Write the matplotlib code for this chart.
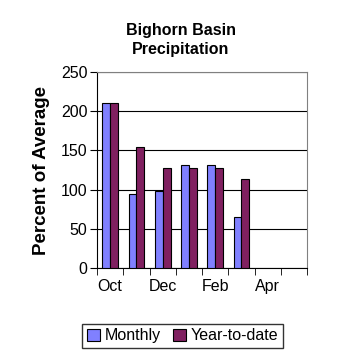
import matplotlib
matplotlib.use("Agg")
from matplotlib import pyplot as plt
import numpy as np

plt.rcParams['font.family'] = ['Liberation Sans', 'DejaVu Sans']

months = ['Oct', 'Nov', 'Dec', 'Jan', 'Feb', 'Mar', 'Apr', 'May']
monthly = [211, 94, 98, 132, 131, 65, np.nan, np.nan]
ytd = [211, 155, 127, 128, 127, 114, np.nan, np.nan]
tick_labels = ['Oct', '', 'Dec', '', 'Feb', '', 'Apr', '']

fig = plt.figure(figsize=(3.58, 3.58), dpi=100)
ax = fig.add_axes([0.271, 0.251, 0.587, 0.548])

x = np.arange(len(months))
w = 0.3
ax.bar(x - w/2, monthly, w, color='#8080ff', edgecolor='black', linewidth=0.8, label='Monthly', zorder=3)
ax.bar(x + w/2, ytd, w, color='#802060', edgecolor='black', linewidth=0.8, label='Year-to-date', zorder=3)

ax.set_xlim(-0.5, len(months) - 0.5)
ax.set_ylim(0, 250)
ax.set_yticks(range(0, 251, 50))
ax.yaxis.grid(True, color='black', linewidth=0.8, zorder=0)

# month labels at centers, tick marks at boundaries
ax.set_xticks(x)
ax.set_xticklabels(tick_labels, fontsize=11.5)
ax.tick_params(axis='x', which='major', length=0, pad=8)
ax.set_xticks(np.arange(-0.5, len(months)), minor=True)
ax.tick_params(axis='x', which='minor', length=5, direction='out', color='black')
ax.tick_params(axis='y', labelsize=11.5, length=5, direction='out', pad=2)

for s in ['top', 'right']:
    ax.spines[s].set_color('#808080')
for s in ['left', 'bottom']:
    ax.spines[s].set_color('black')

ax.set_ylabel('Percent of Average', fontsize=13.5, fontweight='bold', labelpad=8)
fig.text(0.505, 0.888, 'Bighorn Basin\nPrecipitation', ha='center', va='center',
         fontsize=11.5, fontweight='bold', linespacing=1.4)

leg = fig.legend(loc='center', bbox_to_anchor=(0.51, 0.062), ncol=2, fontsize=11.5,
                 frameon=True, fancybox=False, edgecolor='black', handlelength=0.8,
                 handleheight=0.8, handletextpad=0.3, columnspacing=0.8, borderpad=0.3)
leg.get_frame().set_linewidth(1)

fig.savefig('out.png', dpi=100)
